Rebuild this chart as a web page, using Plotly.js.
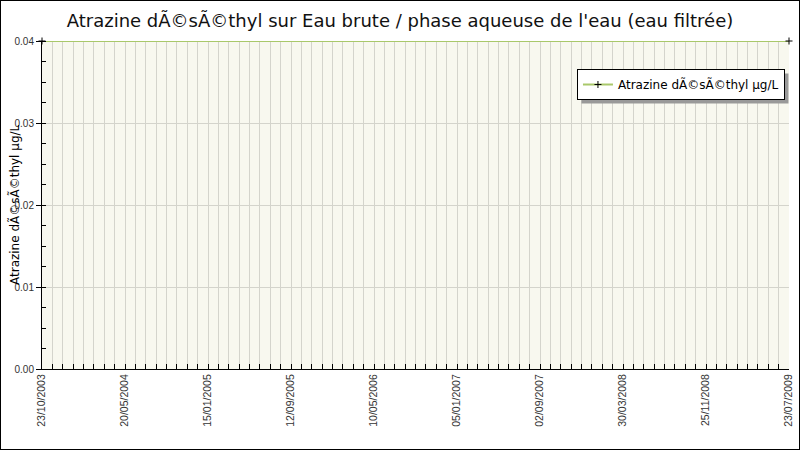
<!DOCTYPE html>
<html>
<head>
<meta charset="utf-8">
<script src="https://cdn.plot.ly/plotly-3.0.1.min.js"></script>
<style>
  body { margin: 0; background: #fff; }
  #chart { width: 798px; height: 448px; border: 1px solid #000; }
</style>
</head>
<body>
<div id="chart"></div>
<script>
// etiquettes de l'axe des dates
var tickDates = ['23/10/2003', '20/05/2004', '15/01/2005', '12/09/2005', '10/05/2006',
                 '05/01/2007', '02/09/2007', '30/03/2008', '25/11/2008', '23/07/2009'];
var pasEntreDates = 8; // colonnes de grille entre deux etiquettes

// mesures
var mesureDates = ['23/10/2003', '23/07/2009'];
var mesureValeurs = [0.04, 0.04];

var nomSerie = 'Atrazine dÃ©sÃ©thyl µg/L';
var titre = "Atrazine dÃ©sÃ©thyl sur Eau brute / phase aqueuse de l'eau (eau filtrée)";

var tickVals = [];
for (var i in tickDates) tickVals.push(i * pasEntreDates);

var xs = mesureDates.map(function (d) { return tickDates.indexOf(d) * pasEntreDates; });

var data = [{
  type: 'scatter',
  mode: 'lines+markers',
  x: xs,
  y: mesureValeurs,
  name: nomSerie,
  line: { color: '#a9c86a', width: 2 },
  marker: { symbol: 'cross-thin', size: 5, line: { color: '#000', width: 1 }, color: '#000' },
  cliponaxis: false
}];

var layout = {
  width: 798,
  height: 448,
  margin: { l: 41, r: 10, t: 40, b: 80 },
  paper_bgcolor: '#fff',
  plot_bgcolor: '#f8f8ef',
  showlegend: true,
  title: {
    text: titre,
    font: { family: 'DejaVu Sans', size: 18, color: '#111' },
    x: 0.5, xanchor: 'center', y: 0.955, yanchor: 'middle'
  },
  xaxis: {
    range: [0, (tickDates.length - 1) * pasEntreDates],
    tickvals: tickVals,
    ticktext: tickDates,
    tickangle: -90,
    tickfont: { family: 'Liberation Sans', size: 10.5, color: '#333' },
    ticks: 'inside', ticklen: 5, tickcolor: '#000',
    showline: true, linecolor: '#000', linewidth: 1,
    showgrid: true, gridcolor: '#d4d4cc', gridwidth: 1,
    zeroline: false,
    minor: { dtick: 1, ticks: 'inside', ticklen: 5, tickcolor: '#000', showgrid: true, gridcolor: '#d4d4cc' },
    fixedrange: true
  },
  yaxis: {
    range: [0, 0.04],
    dtick: 0.01,
    tickformat: '.2f',
    tickfont: { family: 'Liberation Sans', size: 10, color: '#333' },
    ticks: 'outside', ticklen: 5, tickcolor: '#000',
    showline: true, linecolor: '#000', linewidth: 1,
    showgrid: true, gridcolor: '#d4d4cc',
    zeroline: false,
    minor: { dtick: 0.0025, ticks: 'inside', ticklen: 4, tickcolor: '#000', showgrid: false },
    fixedrange: true
  },
  legend: {
    x: 0.9946, xanchor: 'right',
    y: 0.9146, yanchor: 'top',
    bgcolor: '#fff',
    bordercolor: '#000', borderwidth: 1,
    font: { family: 'DejaVu Sans', size: 12, color: '#000' },
    itemwidth: 30
  },
  annotations: [{
    text: nomSerie,
    xref: 'paper', yref: 'paper', x: 0, y: 0.5,
    xshift: -28, xanchor: 'center', yanchor: 'middle',
    textangle: -90, showarrow: false,
    font: { family: 'DejaVu Sans', size: 12, color: '#000' }
  }]
};

Plotly.newPlot('chart', data, layout, { displayModeBar: false, staticPlot: true }).then(function (gd) {
  // ombre grise derriere la legende
  var bg = gd.querySelector('.legend .bg');
  if (!bg) return;
  var r = bg.getBoundingClientRect();
  var g = gd.getBoundingClientRect();
  var s = gd._fullLayout._size;
  var px = function (v) { return (v - g.left - 1 - s.l) / s.w; };
  var py = function (v) { return 1 - (v - g.top - 1 - s.t) / s.h; };
  Plotly.relayout(gd, {
    shapes: [{
      type: 'rect', xref: 'paper', yref: 'paper', layer: 'above',
      x0: px(r.left + 4), x1: px(r.right + 4),
      y0: py(r.bottom + 4), y1: py(r.top + 4),
      fillcolor: '#999', line: { width: 0 }
    }]
  });
});
</script>
</body>
</html>
